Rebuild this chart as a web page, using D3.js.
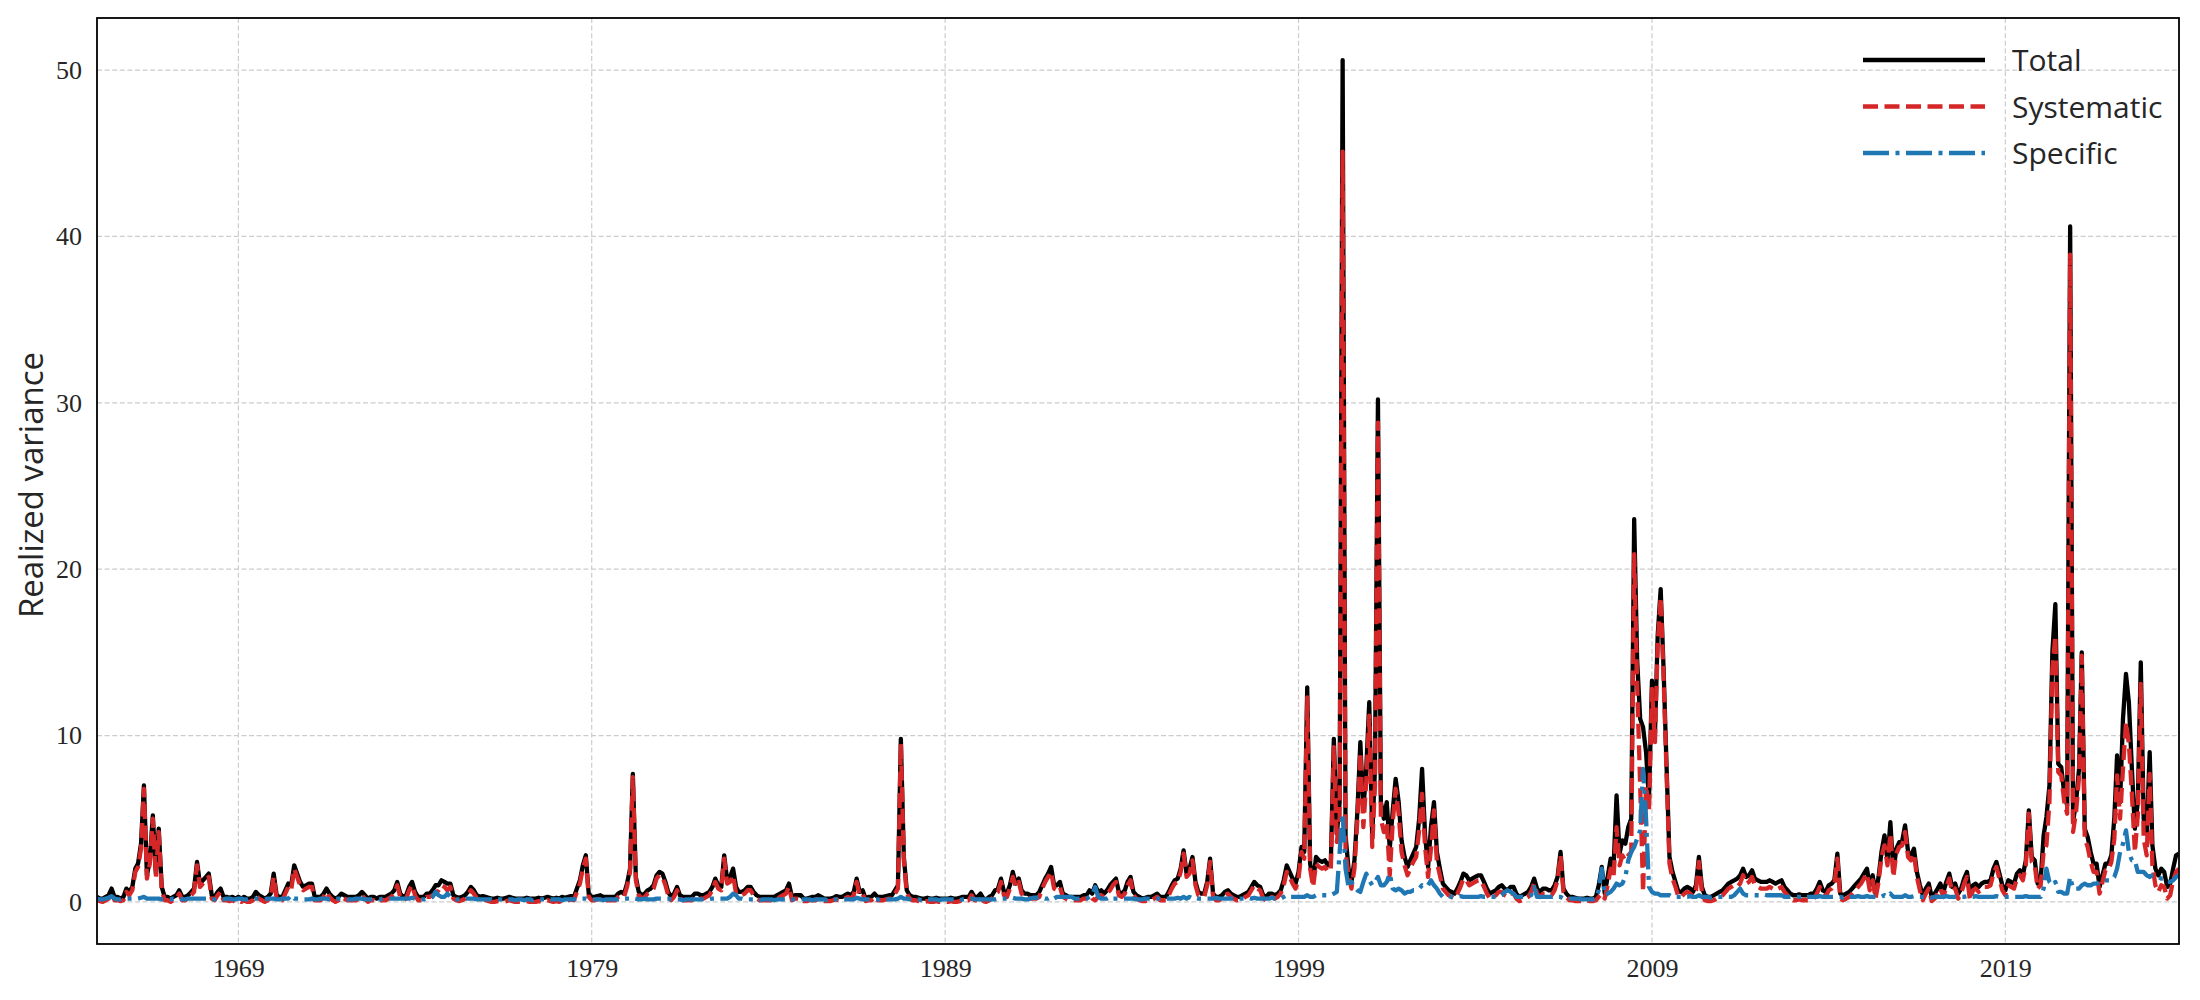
<!DOCTYPE html>
<html>
<head>
<meta charset="utf-8">
<script src="https://cdn.jsdelivr.net/npm/d3@7"></script>
<style>
  body { margin: 0; background: #fff; }
</style>
</head>
<body>
<svg id="chart" width="2200" height="1000"></svg>
<script>
// monthly series, Jan 1965 .. Dec 2023, one row per year
const startYear = 1965;

const total = [
  0.3,0.2,0.2,0.3,0.4,0.8,0.3,0.3,0.2,0.3,0.8,0.6,      // 1965
  0.9,2.0,2.3,3.5,7.0,1.6,2.5,5.2,1.7,4.4,0.9,0.3,
  0.3,0.2,0.3,0.4,0.7,0.3,0.3,0.4,0.6,0.8,2.4,1.1,
  1.3,1.5,1.7,0.4,0.3,0.6,0.8,0.3,0.3,0.25,0.3,0.2,
  0.3,0.2,0.3,0.2,0.2,0.3,0.6,0.4,0.3,0.2,0.3,0.5,
  1.7,0.4,0.3,0.3,0.7,1.1,1.0,2.2,1.7,1.2,0.9,1.0,      // 1970
  1.1,1.1,0.3,0.3,0.3,0.5,0.8,0.5,0.3,0.2,0.3,0.5,
  0.4,0.3,0.3,0.3,0.3,0.4,0.6,0.4,0.2,0.3,0.3,0.2,
  0.3,0.3,0.3,0.4,0.5,0.7,1.2,0.5,0.3,0.4,0.9,1.2,
  0.6,0.3,0.3,0.3,0.5,0.5,0.7,1.0,1.0,1.3,1.2,1.1,
  1.1,0.4,0.3,0.25,0.3,0.4,0.6,0.9,0.7,0.4,0.3,0.35,   // 1975
  0.3,0.25,0.2,0.2,0.25,0.2,0.2,0.25,0.3,0.25,0.2,0.2,
  0.2,0.2,0.25,0.2,0.2,0.2,0.25,0.2,0.25,0.3,0.25,0.2,
  0.25,0.2,0.3,0.25,0.3,0.35,0.3,0.8,1.3,2.2,2.8,0.5,
  0.3,0.3,0.35,0.4,0.3,0.3,0.3,0.3,0.3,0.5,0.6,0.5,
  1.1,2.0,7.7,1.5,0.6,0.4,0.5,0.7,0.8,1.0,1.6,1.8,      // 1980
  1.7,1.2,0.6,0.3,0.5,0.9,0.4,0.3,0.3,0.3,0.3,0.5,
  0.5,0.4,0.4,0.5,0.6,0.9,1.4,1.0,0.9,2.8,1.3,1.5,
  2.0,0.9,0.6,0.6,0.7,0.9,0.9,0.6,0.4,0.3,0.3,0.3,
  0.3,0.3,0.3,0.4,0.5,0.6,0.7,1.1,0.3,0.4,0.4,0.4,
  0.2,0.2,0.25,0.3,0.3,0.4,0.3,0.2,0.2,0.2,0.25,0.35,  // 1985
  0.3,0.3,0.4,0.5,0.4,0.6,1.4,0.6,0.7,0.2,0.3,0.3,
  0.5,0.3,0.3,0.3,0.35,0.4,0.4,0.7,1.0,9.8,2.7,0.7,
  0.4,0.3,0.3,0.25,0.2,0.2,0.25,0.2,0.2,0.25,0.2,0.2,
  0.2,0.2,0.25,0.2,0.2,0.25,0.3,0.3,0.3,0.6,0.3,0.3,
  0.5,0.2,0.15,0.3,0.4,0.7,0.8,1.4,0.6,0.5,1.0,1.8,     // 1990
  1.1,1.4,0.7,0.5,0.5,0.4,0.4,0.4,0.6,1.0,1.4,1.7,
  2.1,1.0,1.0,1.2,0.5,0.4,0.3,0.3,0.3,0.3,0.3,0.4,
  0.4,0.7,0.5,1.0,0.6,0.7,0.5,0.7,1.0,1.2,1.4,0.6,
  0.5,0.7,1.2,1.5,0.6,0.4,0.3,0.2,0.25,0.3,0.3,0.4,
  0.5,0.3,0.3,0.3,0.6,1.0,1.3,1.4,2.0,3.1,1.7,2.0,      // 1995
  2.7,1.2,0.6,0.5,0.5,1.2,2.6,0.5,0.3,0.3,0.4,0.6,
  0.7,0.5,0.4,0.3,0.3,0.4,0.5,0.6,0.9,1.2,1.0,0.9,
  0.4,0.3,0.5,0.5,0.4,0.5,0.7,1.3,2.2,1.8,1.4,1.1,
  1.8,3.3,3.0,12.9,2.3,1.2,2.7,2.5,2.4,2.5,2.2,2.4,
  9.8,4.1,6.0,50.6,4.0,2.0,1.2,2.5,5.5,9.6,5.5,8.0,     // 2000
  12.0,4.0,8.0,30.2,6.0,5.0,6.0,3.2,5.5,7.4,6.0,3.7,
  2.7,2.1,2.5,2.9,3.3,5.0,8.0,4.0,2.1,4.5,6.0,3.0,
  2.0,1.1,0.9,0.7,0.6,0.5,0.8,1.2,1.7,1.6,1.3,1.4,
  1.5,1.6,1.6,1.2,0.8,0.5,0.6,0.7,0.9,1.0,0.8,0.7,
  0.9,0.9,0.5,0.3,0.4,0.5,0.6,0.9,1.4,0.8,0.6,0.8,      // 2005
  0.8,0.7,0.7,1.0,1.5,3.0,0.8,0.5,0.3,0.3,0.25,0.2,
  0.2,0.2,0.25,0.2,0.2,0.3,1.0,2.1,0.5,1.5,2.6,2.1,
  6.4,2.9,3.7,3.5,4.5,5.0,23.0,14.5,11.0,10.5,9.0,6.1,
  13.3,10.1,16.0,18.8,14.0,8.1,2.7,1.8,1.2,0.6,0.6,0.8,
  0.9,0.8,0.6,1.0,2.7,0.9,0.4,0.3,0.3,0.4,0.5,0.6,      // 2010
  0.7,0.9,1.1,1.2,1.3,1.4,1.6,2.0,1.5,1.6,1.9,1.4,
  1.3,1.2,1.2,1.2,1.3,1.2,1.1,1.2,1.3,0.9,0.7,0.5,
  0.4,0.4,0.45,0.4,0.4,0.4,0.5,0.5,0.8,1.2,0.7,0.6,
  1.0,1.1,1.3,2.9,0.5,0.4,0.5,0.6,0.8,1.0,1.2,1.4,
  1.7,2.0,1.0,1.6,0.5,1.5,3.0,4.0,2.5,4.8,1.8,3.2,      // 2015
  3.6,3.7,4.6,3.0,2.8,3.2,1.8,1.0,0.4,0.8,1.1,0.3,
  0.5,0.8,1.1,0.6,1.2,1.7,0.9,1.1,0.5,0.8,1.4,1.8,
  0.4,1.0,1.1,0.9,1.1,1.2,1.2,1.3,2.0,2.4,1.7,1.0,
  0.7,1.3,1.2,1.1,1.7,1.9,1.6,2.5,5.5,2.7,2.5,1.1,
  1.3,4.0,5.1,7.0,15.0,17.9,8.3,8.1,6.5,5.8,40.6,4.8,   // 2020
  6.0,8.0,15.0,4.4,3.9,3.0,2.3,2.3,0.9,1.6,2.3,2.3,
  2.8,5.1,8.8,6.0,11.0,13.7,12.0,8.0,4.4,6.0,14.4,5.0,
  4.1,9.0,3.4,2.0,1.6,2.0,1.8,0.9,1.1,2.0,2.8,2.9
];

const systematic = [
  0.1,0.05,0.0,0.1,0.2,0.5,0.1,0.1,0.05,0.1,0.6,0.4,   // 1965
  0.7,1.8,2.1,3.2,6.8,1.4,2.3,5.0,1.5,4.2,0.7,0.1,
  0.1,0.0,0.1,0.2,0.5,0.1,0.1,0.2,0.4,0.6,2.2,0.9,
  1.1,1.3,1.5,0.2,0.1,0.4,0.6,0.1,0.1,0.05,0.1,0.0,
  0.1,0.0,0.1,0.0,0.0,0.1,0.4,0.2,0.1,0.0,0.1,0.3,
  1.5,0.2,0.1,0.1,0.5,0.9,0.7,2.0,1.5,1.0,0.7,0.8,      // 1970
  0.9,0.9,0.1,0.1,0.1,0.3,0.6,0.3,0.1,0.0,0.1,0.3,
  0.2,0.1,0.1,0.1,0.1,0.2,0.4,0.2,0.0,0.1,0.1,0.0,
  0.1,0.1,0.1,0.2,0.3,0.5,1.0,0.3,0.1,0.2,0.7,1.0,
  0.4,0.1,0.1,0.1,0.3,0.3,0.4,0.5,0.7,1.0,0.9,0.7,
  0.9,0.2,0.1,0.05,0.1,0.2,0.4,0.7,0.5,0.2,0.1,0.15,   // 1975
  0.1,0.05,0.0,0.0,0.05,0.0,0.0,0.05,0.1,0.05,0.0,0.0,
  0.0,0.0,0.05,0.0,0.0,0.0,0.05,0.0,0.05,0.1,0.05,0.0,
  0.05,0.0,0.1,0.05,0.1,0.15,0.1,0.6,1.1,2.0,2.6,0.3,
  0.1,0.1,0.15,0.2,0.1,0.1,0.1,0.1,0.1,0.3,0.4,0.3,
  0.9,1.8,7.5,1.3,0.4,0.2,0.3,0.5,0.6,0.8,1.4,1.6,      // 1980
  1.5,1.0,0.4,0.1,0.3,0.7,0.2,0.1,0.1,0.1,0.1,0.3,
  0.3,0.2,0.2,0.3,0.4,0.7,1.2,0.8,0.7,2.6,1.1,1.2,
  1.6,0.5,0.4,0.4,0.5,0.7,0.7,0.4,0.2,0.1,0.1,0.1,
  0.1,0.1,0.1,0.2,0.3,0.4,0.5,0.9,0.1,0.2,0.2,0.2,
  0.05,0.05,0.1,0.1,0.1,0.2,0.1,0.05,0.05,0.05,0.1,0.15, // 1985
  0.1,0.1,0.2,0.3,0.2,0.4,1.2,0.4,0.5,0.05,0.1,0.1,
  0.3,0.1,0.1,0.1,0.15,0.2,0.2,0.5,0.8,9.5,2.5,0.5,
  0.2,0.1,0.1,0.05,0.0,0.0,0.05,0.0,0.0,0.05,0.0,0.0,
  0.0,0.0,0.05,0.0,0.0,0.05,0.1,0.1,0.1,0.4,0.1,0.1,
  0.3,0.05,0.0,0.1,0.2,0.5,0.6,1.2,0.4,0.3,0.8,1.5,     // 1990
  0.9,1.2,0.5,0.3,0.3,0.2,0.2,0.2,0.3,0.8,1.2,1.5,
  1.8,0.8,0.7,0.9,0.3,0.2,0.1,0.1,0.1,0.1,0.1,0.2,
  0.2,0.4,0.2,0.1,0.3,0.4,0.3,0.5,0.7,1.0,1.2,0.4,
  0.3,0.5,1.0,1.3,0.4,0.2,0.1,0.05,0.05,0.1,0.1,0.2,
  0.3,0.1,0.1,0.1,0.4,0.8,1.1,1.2,1.8,2.9,1.5,1.7,      // 1995
  2.5,1.0,0.4,0.3,0.3,1.0,2.4,0.3,0.1,0.1,0.2,0.4,
  0.5,0.3,0.2,0.1,0.1,0.2,0.3,0.4,0.7,1.0,0.8,0.7,
  0.2,0.1,0.3,0.3,0.2,0.3,0.5,1.0,1.8,1.5,1.1,0.8,
  1.4,3.0,2.6,12.3,2.0,0.9,2.3,2.1,2.0,2.1,1.8,2.0,
  9.3,3.6,5.0,45.1,3.0,1.6,0.8,2.0,5.0,9.0,4.5,7.2,     // 2000
  11.2,3.3,7.0,28.8,5.0,4.2,4.8,1.6,4.8,6.8,5.3,3.0,
  2.2,1.6,2.0,2.4,2.7,4.3,6.5,3.3,1.5,3.2,5.5,2.4,
  1.6,0.8,0.6,0.4,0.3,0.2,0.5,0.9,1.4,1.3,1.0,1.1,
  1.2,1.3,1.3,0.9,0.5,0.2,0.3,0.4,0.6,0.6,0.4,0.3,
  0.5,0.5,0.2,0.05,0.1,0.2,0.3,0.6,1.1,0.5,0.3,0.5,     // 2005
  0.5,0.4,0.4,0.7,1.3,2.8,0.6,0.3,0.1,0.1,0.05,0.05,
  0.05,0.05,0.1,0.05,0.05,0.1,0.3,0.5,0.2,1.0,2.0,1.5,
  4.5,2.2,2.8,2.5,2.8,3.0,20.9,13.0,7.0,0.6,7.0,5.5,
  12.8,9.6,15.5,18.3,13.5,7.7,2.3,1.4,0.9,0.3,0.3,0.5,
  0.6,0.5,0.3,0.7,2.4,0.6,0.1,0.05,0.05,0.1,0.2,0.3,    // 2010
  0.4,0.6,0.8,0.9,1.0,0.9,1.1,1.6,1.1,1.2,1.5,1.0,
  0.9,0.8,0.8,0.8,0.9,0.8,0.7,0.8,0.9,0.6,0.4,0.2,
  0.1,0.1,0.15,0.1,0.1,0.1,0.2,0.2,0.5,0.9,0.4,0.3,
  0.7,0.8,1.0,2.6,0.2,0.1,0.2,0.3,0.5,0.7,0.9,1.1,
  1.4,1.7,0.7,1.3,0.2,1.2,2.7,3.4,2.2,4.1,1.5,2.9,      // 2015
  3.3,3.4,4.2,2.7,2.5,2.9,1.5,0.7,0.1,0.5,0.8,0.05,
  0.2,0.5,0.8,0.3,0.9,1.4,0.6,0.8,0.2,0.5,1.1,1.5,
  0.1,0.7,0.8,0.6,0.8,0.9,0.9,1.0,1.7,2.1,1.4,0.7,
  0.4,1.0,0.9,0.8,1.4,1.6,1.3,2.2,5.3,2.4,2.2,0.8,
  1.0,3.0,3.4,6.0,14.0,16.0,7.8,7.6,6.0,5.3,38.9,4.2,   // 2020
  5.4,7.5,14.8,3.8,3.3,2.4,1.8,1.8,0.5,1.2,1.9,1.9,
  2.4,3.8,7.6,5.0,8.0,10.8,9.5,6.5,3.0,5.2,13.1,3.8,
  2.8,7.7,2.2,1.0,0.6,1.0,0.9,0.2,0.4,1.3,1.8,2.0
];

const specific = [
  0.2,0.15,0.15,0.2,0.25,0.35,0.2,0.15,0.15,0.2,0.2,0.2,   // 1965
  0.2,0.2,0.2,0.25,0.3,0.2,0.2,0.2,0.2,0.2,0.15,0.15,
  0.15,0.15,0.2,0.2,0.2,0.15,0.15,0.2,0.2,0.2,0.2,0.2,
  0.2,0.2,0.2,0.15,0.15,0.2,0.2,0.15,0.2,0.2,0.15,0.15,
  0.2,0.2,0.15,0.15,0.2,0.2,0.2,0.2,0.15,0.15,0.2,0.2,
  0.2,0.15,0.15,0.2,0.2,0.2,0.4,0.2,0.2,0.2,0.15,0.15,     // 1970
  0.15,0.2,0.15,0.15,0.2,0.2,0.2,0.15,0.15,0.15,0.2,0.2,
  0.2,0.15,0.15,0.15,0.2,0.2,0.2,0.15,0.15,0.15,0.2,0.2,
  0.15,0.2,0.2,0.2,0.2,0.2,0.2,0.2,0.2,0.2,0.2,0.25,
  0.2,0.2,0.15,0.15,0.2,0.2,0.3,0.6,0.4,0.3,0.3,0.5,
  0.3,0.2,0.15,0.15,0.15,0.2,0.2,0.2,0.2,0.15,0.15,0.15,   // 1975
  0.15,0.15,0.15,0.1,0.15,0.15,0.1,0.15,0.15,0.15,0.1,0.15,
  0.15,0.1,0.15,0.15,0.1,0.15,0.15,0.15,0.15,0.2,0.15,0.15,
  0.15,0.15,0.1,0.15,0.15,0.15,0.15,0.2,0.2,0.2,0.2,0.15,
  0.15,0.15,0.15,0.15,0.1,0.15,0.15,0.15,0.15,0.15,0.2,0.2,
  0.2,0.2,0.25,0.2,0.15,0.15,0.2,0.15,0.15,0.15,0.2,0.2,   // 1980
  0.2,0.2,0.2,0.15,0.15,0.15,0.15,0.1,0.15,0.15,0.15,0.15,
  0.15,0.15,0.15,0.15,0.15,0.2,0.2,0.2,0.2,0.2,0.2,0.3,
  0.5,0.4,0.2,0.2,0.15,0.15,0.15,0.15,0.15,0.1,0.15,0.15,
  0.15,0.15,0.1,0.15,0.15,0.15,0.15,0.2,0.15,0.15,0.15,0.15,
  0.15,0.15,0.15,0.1,0.15,0.15,0.15,0.15,0.1,0.15,0.15,0.15, // 1985
  0.15,0.15,0.15,0.15,0.15,0.15,0.25,0.2,0.15,0.15,0.15,0.15,
  0.15,0.15,0.1,0.15,0.15,0.15,0.15,0.15,0.2,0.3,0.2,0.2,
  0.15,0.15,0.15,0.15,0.1,0.15,0.15,0.15,0.15,0.15,0.1,0.15,
  0.15,0.15,0.15,0.15,0.15,0.1,0.15,0.15,0.15,0.2,0.15,0.15,
  0.15,0.15,0.15,0.15,0.15,0.15,0.2,0.2,0.2,0.2,0.2,0.25,  // 1990
  0.2,0.2,0.2,0.15,0.15,0.2,0.25,0.25,0.3,0.25,0.2,0.2,
  0.3,0.2,0.3,0.3,0.3,0.3,0.3,0.3,0.2,0.2,0.2,0.2,
  0.2,0.3,0.4,0.9,0.3,0.2,0.2,0.2,0.3,0.2,0.2,0.2,
  0.2,0.2,0.2,0.2,0.2,0.15,0.15,0.15,0.2,0.2,0.2,0.2,
  0.2,0.2,0.2,0.2,0.2,0.2,0.2,0.25,0.2,0.3,0.2,0.3,       // 1995
  0.2,0.25,0.2,0.2,0.2,0.2,0.2,0.2,0.25,0.2,0.2,0.2,
  0.2,0.2,0.25,0.2,0.2,0.2,0.2,0.25,0.2,0.25,0.2,0.2,
  0.2,0.2,0.2,0.25,0.2,0.2,0.2,0.3,0.4,0.3,0.3,0.3,
  0.3,0.3,0.3,0.4,0.3,0.3,0.4,0.4,0.4,0.4,0.4,0.4,
  0.5,0.6,3.0,5.3,2.0,0.9,1.2,0.9,0.7,0.6,1.2,1.7,        // 2000
  1.3,1.0,1.2,1.5,1.0,1.0,1.2,1.7,0.8,0.7,0.8,0.7,
  0.5,0.6,0.6,0.7,0.7,0.8,1.0,0.9,1.0,1.3,1.0,0.8,
  0.5,0.3,0.3,0.35,0.3,0.3,0.3,0.35,0.3,0.3,0.3,0.3,
  0.3,0.3,0.35,0.3,0.3,0.3,0.3,0.3,0.3,0.4,0.6,0.7,
  0.6,0.5,0.3,0.3,0.3,0.3,0.35,0.4,0.9,0.3,0.3,0.3,       // 2005
  0.3,0.3,0.3,0.35,0.3,0.3,0.2,0.2,0.2,0.2,0.2,0.2,
  0.15,0.15,0.15,0.15,0.15,0.2,0.7,2.0,0.4,0.5,0.6,0.8,
  1.1,1.0,1.1,1.5,2.5,3.0,3.3,3.8,4.3,8.0,5.0,0.9,
  0.6,0.5,0.5,0.4,0.4,0.4,0.4,0.3,0.3,0.3,0.3,0.3,
  0.3,0.35,0.3,0.3,0.4,0.3,0.3,0.3,0.25,0.3,0.3,0.3,      // 2010
  0.3,0.3,0.3,0.3,0.4,0.6,0.8,0.5,0.4,0.4,0.4,0.4,
  0.4,0.4,0.45,0.4,0.4,0.4,0.4,0.4,0.4,0.3,0.3,0.3,
  0.3,0.3,0.3,0.3,0.25,0.3,0.3,0.3,0.3,0.35,0.3,0.3,
  0.3,0.3,0.3,0.3,0.3,0.25,0.3,0.3,0.3,0.3,0.35,0.3,
  0.3,0.35,0.3,0.3,0.3,0.3,0.3,0.4,0.3,0.5,0.3,0.3,       // 2015
  0.3,0.3,0.4,0.3,0.3,0.35,0.3,0.3,0.3,0.3,0.3,0.25,
  0.3,0.3,0.3,0.3,0.35,0.3,0.3,0.3,0.3,0.3,0.3,0.35,
  0.3,0.3,0.35,0.3,0.3,0.3,0.3,0.3,0.3,0.35,0.3,0.3,
  0.3,0.3,0.3,0.3,0.3,0.3,0.3,0.35,0.3,0.3,0.3,0.3,
  0.3,0.8,2.0,1.2,1.0,1.2,0.6,0.6,0.5,0.5,1.5,0.8,        // 2020
  0.8,0.8,1.0,1.1,1.0,1.0,1.1,1.1,1.2,1.3,1.3,1.3,
  1.3,1.5,2.0,3.0,3.5,4.3,3.0,2.5,2.5,1.8,1.8,1.8,
  1.6,1.5,1.6,1.6,1.5,1.4,1.4,1.2,1.2,1.3,1.5,1.6
];

const xTickYears = [1969, 1979, 1989, 1999, 2009, 2019];
const yTicks = [0, 10, 20, 30, 40, 50];
const seriesNames = ["Total", "Systematic", "Specific"];
const seriesColors = ["#000000", "#d62728", "#1f77b4"];
const seriesDash = [null, "15,6.5", "26,6.5,4,6.5"];

const svg = d3.select("#chart");
const W = 2200, H = 1000;
const area = { left: 97, right: 2179, top: 18, bottom: 944 };
const lineWidth = 4.3;
const sansFont = "'Open Sans', Lato, sans-serif";
const serifFont = "'Liberation Serif', 'DejaVu Serif', serif";

const dates = total.map((_, i) => new Date(startYear, i, 1));

const scX = d3.scaleTime()
    .domain(d3.extent(dates))
    .range([area.left, area.right]);

const [lo, hi] = d3.extent(total.concat(systematic, specific));
const pad = 0.05 * (hi - lo);
const scY = d3.scaleLinear()
    .domain([lo - pad, hi + pad])
    .range([area.bottom, area.top]);

svg.append("rect").attr("width", W).attr("height", H).attr("fill", "#fff");

svg.append("defs").append("clipPath").attr("id", "plot-clip")
    .append("rect")
    .attr("x", area.left).attr("y", area.top)
    .attr("width", area.right - area.left).attr("height", area.bottom - area.top);

// grid
const tickDates = xTickYears.map(y => new Date(y, 0, 1));
const grid = svg.append("g").attr("stroke", "#cccccc").attr("stroke-width", 1.2)
    .attr("stroke-dasharray", "5,2.6");
grid.selectAll(".gx").data(tickDates).enter().append("line")
    .attr("x1", d => scX(d)).attr("x2", d => scX(d))
    .attr("y1", area.top).attr("y2", area.bottom);
grid.selectAll(".gy").data(yTicks).enter().append("line")
    .attr("x1", area.left).attr("x2", area.right)
    .attr("y1", d => scY(d)).attr("y2", d => scY(d));

// series lines
const series = [total, systematic, specific];
const lineGen = d3.line()
    .x((d, i) => scX(dates[i]))
    .y(d => scY(d));

const plot = svg.append("g").attr("clip-path", "url(#plot-clip)");
series.forEach((values, k) => {
    plot.append("path")
        .datum(values)
        .attr("fill", "none")
        .attr("stroke", seriesColors[k])
        .attr("stroke-width", lineWidth)
        .attr("stroke-linejoin", "round")
        .attr("stroke-dasharray", seriesDash[k])
        .attr("d", lineGen);
});

// axes
const axisX = d3.axisBottom(scX)
    .tickValues(tickDates)
    .tickFormat(d3.timeFormat("%Y"))
    .tickSize(0)
    .tickPadding(15);
const gx = svg.append("g")
    .attr("transform", `translate(0, ${area.bottom})`)
    .call(axisX);
gx.select(".domain").remove();
gx.selectAll("text")
    .style("font-family", serifFont)
    .style("font-size", "26px")
    .attr("fill", "#262626");

const axisY = d3.axisLeft(scY)
    .tickValues(yTicks)
    .tickSize(0)
    .tickPadding(15);
const gy = svg.append("g")
    .attr("transform", `translate(${area.left}, 0)`)
    .call(axisY);
gy.select(".domain").remove();
gy.selectAll("text")
    .style("font-family", serifFont)
    .style("font-size", "26px")
    .attr("fill", "#262626");

// frame
svg.append("rect")
    .attr("x", area.left).attr("y", area.top)
    .attr("width", area.right - area.left).attr("height", area.bottom - area.top)
    .attr("fill", "none")
    .attr("stroke", "#000")
    .attr("stroke-width", 1.8);

// y label
svg.append("text")
    .attr("transform", `translate(43, ${(area.top + area.bottom) / 2 + 4}) rotate(-90)`)
    .attr("text-anchor", "middle")
    .style("font-family", sansFont)
    .style("font-size", "33px")
    .attr("fill", "#262626")
    .text("Realized variance");

// legend
const legend = svg.append("g").attr("transform", "translate(1863, 60)");
seriesNames.forEach((name, k) => {
    const row = legend.append("g").attr("transform", `translate(0, ${k * 46.5})`);
    row.append("line")
        .attr("x1", 0).attr("x2", 122)
        .attr("y1", 0).attr("y2", 0)
        .attr("stroke", seriesColors[k])
        .attr("stroke-width", lineWidth)
        .attr("stroke-dasharray", seriesDash[k]);
    row.append("text")
        .attr("x", 149).attr("y", 11)
        .style("font-family", sansFont)
        .style("font-size", "30px")
        .attr("fill", "#262626")
        .text(name);
});
</script>
</body>
</html>
